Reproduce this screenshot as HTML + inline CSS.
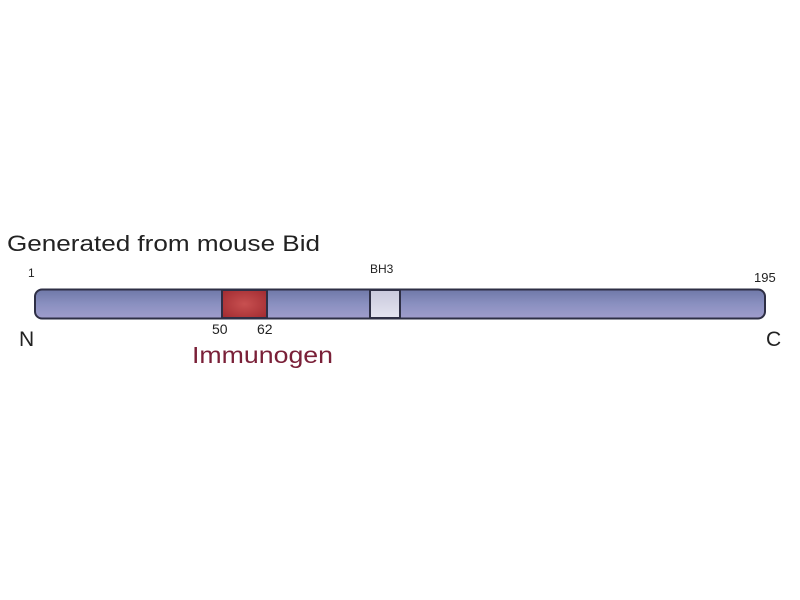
<!DOCTYPE html>
<html><head><meta charset="utf-8"><style>
html,body{margin:0;padding:0;background:#fff;width:800px;height:600px;overflow:hidden}
</style></head><body>
<svg width="800" height="600" viewBox="0 0 800 600" xmlns="http://www.w3.org/2000/svg" font-family="Liberation Sans, sans-serif">
<defs>
<linearGradient id="bar" x1="0" y1="0" x2="0" y2="1">
<stop offset="0" stop-color="#6f78a8"/><stop offset="0.5" stop-color="#8a90c0"/><stop offset="1" stop-color="#a09dcc"/>
</linearGradient>
<radialGradient id="red" cx="0.5" cy="0.5" r="0.7">
<stop offset="0" stop-color="#c85050"/><stop offset="1" stop-color="#a02a30"/>
</radialGradient>
<linearGradient id="bh3" x1="0" y1="0" x2="0" y2="1">
<stop offset="0" stop-color="#c8c8dc"/><stop offset="1" stop-color="#e4e4f0"/>
</linearGradient>
</defs>
<text x="7" y="251" font-size="22" fill="#222" textLength="313" lengthAdjust="spacingAndGlyphs">Generated from mouse Bid</text>
<text x="28" y="277" font-size="12" fill="#222">1</text>
<text x="754" y="282" font-size="13" fill="#222">195</text>
<text x="370" y="273" font-size="12" fill="#222">BH3</text>
<rect x="35" y="289.5" width="730" height="29" rx="7" fill="url(#bar)" stroke="#2e2f45" stroke-width="2"/>
<rect x="222" y="290" width="45" height="28" fill="url(#red)" stroke="#2e2f45" stroke-width="2"/>
<rect x="370" y="290" width="30" height="28" fill="url(#bh3)" stroke="#2e2f45" stroke-width="2"/>
<text x="19" y="346" font-size="21" fill="#222">N</text>
<text x="766" y="346" font-size="21" fill="#222">C</text>
<text x="212" y="334" font-size="14" fill="#222">50</text>
<text x="257" y="334" font-size="14" fill="#222">62</text>
<text x="192" y="363" font-size="23" fill="#7a2038" textLength="141" lengthAdjust="spacingAndGlyphs">Immunogen</text>
</svg>
</body></html>
